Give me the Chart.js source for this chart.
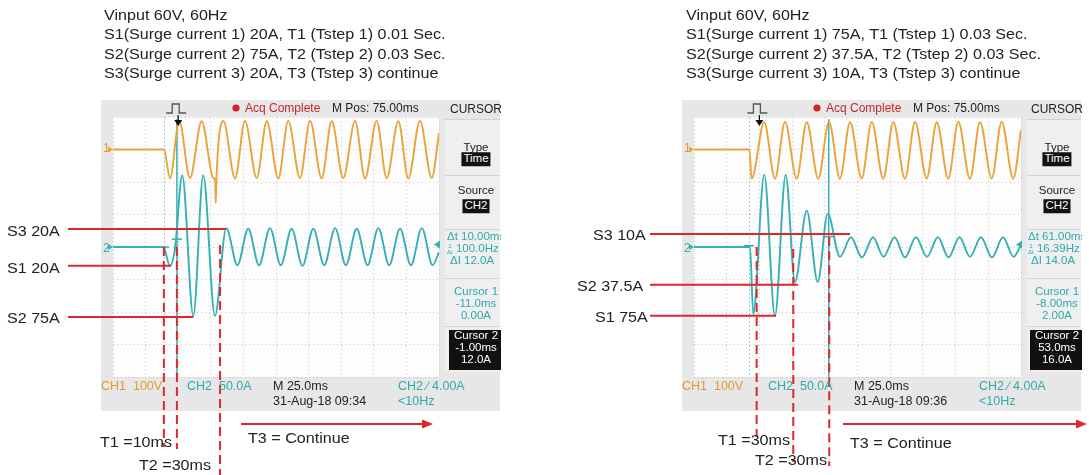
<!DOCTYPE html>
<html>
<head>
<meta charset="utf-8">
<script src="https://cdn.jsdelivr.net/npm/chart.js@4.4.1/dist/chart.umd.min.js"></script>
<style>
  html, body { margin: 0; padding: 0; background: #fff; }
  #page { position: relative; width: 1089px; height: 475px; overflow: hidden; font-family: 'Liberation Sans', Arial, sans-serif; }
  canvas { position: absolute; left: 0; top: 0; }
  .t { position: absolute; white-space: nowrap; line-height: 1; transform: translateY(-50%); }
  .note { font-size: 14px; color: #222; transform: translateY(-50%) scaleX(1.15); transform-origin: 0 50%; }
  .sc { font-size: 12px; color: #222; }
  .c { transform: translate(-50%, -50%); }
  .o { color: #e39a2c; }
  .g { color: #2fa9ad; }
  .r { color: #c4262c; }
  .box { background: #111; color: #fff; padding: 1px 2px; }
  .panel { position: absolute; top: 100px; width: 56px; height: 275px; overflow: hidden; }
  .cur2 { position: absolute; left: 4px; top: 230px; width: 60px; height: 40px; background: #111; }
</style>
</head>
<body>
<div id="page">
  <canvas id="leftScope" width="1089" height="475"></canvas>
  <canvas id="rightScope" width="1089" height="475"></canvas>
  <div id="texts"></div>
</div>
<script>
// ---- scope settings (ms relative to trigger, amps for CH2, volts for CH1)
const timeRange = [-50, 200];
const timeStep = 25;
const ampRange = [-200, 200];
const ampStep = 50;
const voltRange = [-700, 100];

// ---- left capture (09:34)
const leftCh1Time = [-50, -10.9, -6.3, 0.8, 9.0, 18.0, 26.9, 28.4, 28.8, 29.3, 34.6, 43.6, 51.2, 60.2, 67.9, 76.8, 84.4, 93.4, 101.1, 110.0, 117.7, 126.6, 135.6, 143.3, 152.2, 159.9, 168.8, 176.5, 185.4, 194.4, 200];
const leftCh1Volt = [0, 0, -89, 88, -88, 87, -88, -95, -165, -90, 88, -89, 88, -88, 87, -89, 88, -88, 88, -89, 87, -88, 88, -89, 88, -88, 87, -89, 88, -88, 50];
const leftCh2Time = [-50, -11.4, -6.3, -2.5, 3.1, 11.6, 19.2, 28.2, 36.9, 45.4, 53.7, 62.0, 70.4, 78.7, 87.0, 95.3, 103.6, 112.0, 120.3, 128.6, 136.9, 145.2, 153.5, 161.8, 170.1, 178.5, 186.8, 195.1, 200];
const leftCh2Amp = [0, 0, -29, -3, 110, -106, 110, -106, 29, -28, 28, -28, 29, -28, 28, -29, 28, -28, 29, -28, 28, -28, 29, -28, 28, -28, 29, -28, -8];
const leftCursorTime = [-11, -1];
const leftCursorAmp = [0, 12];
const leftLevelAmp = [27.7, -28.8, -107.7];
const leftLevelEnd = [36.9, -5.5, 11.6];
const leftStepTime = [-11, -1, 32.1];
const leftStepFrom = [0, 0, 3];
const leftLabels = ['S3 20A', 'S1 20A', 'S2 75A'];
const leftSteps = ['T1 =10ms', 'T2 =30ms', 'T3 = Continue'];
const leftHeader = ['Vinput 60V, 60Hz', 'S1(Surge current 1) 20A, T1 (Tstep 1) 0.01 Sec.', 'S2(Surge current 2) 75A, T2 (Tstep 2) 0.03 Sec.', 'S3(Surge current 3) 20A, T3 (Tstep 3) continue'];
const leftReadout = ['10.00ms', '100.0Hz', '12.0A', '-11.0ms', '0.00A', '-1.00ms', '12.0A'];
const leftStamp = '31-Aug-18 09:34';

// ---- right capture (09:36)
const rightCh1Time = [-50, -7.7, -5.9, 3.7, 11.9, 19.6, 28.5, 36.2, 45.0, 53.2, 61.6, 69.3, 78.2, 85.9, 94.7, 102.4, 111.3, 119.0, 127.9, 135.6, 144.4, 152.1, 161.0, 168.7, 177.6, 185.2, 194.1, 200];
const rightCh1Volt = [0, 0, -90, 84, -90, 85, -89, 84, -90, 85, -90, 84, -89, 85, -90, 84, -90, 85, -89, 84, -90, 85, -90, 84, -89, 85, -90, 60];
const rightCh2Time = [-50, -7.2, -4.7, 3.7, 11.9, 20.1, 27.2, 36.2, 44.6, 52.2, 61.6, 70.0, 78.4, 86.9, 94.9, 103.3, 111.3, 119.7, 128.1, 136.5, 144.6, 153.0, 161.0, 169.4, 177.8, 186.2, 194.3, 200];
const rightCh2Amp = [0, 0, -103, 111, -106, 111, -54, 56, -54, 51, -15, 15, -16, 15, -15, 15, -16, 15, -15, 15, -16, 15, -15, 15, -16, 15, -15, 3];
const rightCursorTime = [-8, 53];
const rightCursorAmp = [2, 16];
const rightLevelAmp = [20, -58, -105.7];
const rightLevelEnd = [69.3, 29.5, 12.7];
const rightStepTime = [-2.1, 25.9, 53.4];
const rightStepFrom = [0, -3, 15];
const rightLabels = ['S3 10A', 'S2 37.5A', 'S1 75A'];
const rightSteps = ['T1 =30ms', 'T2 =30ms', 'T3 = Continue'];
const rightHeader = ['Vinput 60V, 60Hz', 'S1(Surge current 1) 75A, T1 (Tstep 1) 0.03 Sec.', 'S2(Surge current 2) 37.5A, T2 (Tstep 2) 0.03 Sec.', 'S3(Surge current 3) 10A, T3 (Tstep 3) continue'];
const rightReadout = ['61.00ms', '16.39Hz', '14.0A', '-8.00ms', '2.00A', '53.0ms', '16.0A'];
const rightStamp = '31-Aug-18 09:36';

const CH1 = '#eba238';
const CH2 = '#35b0b4';
const RED = '#e0262c';
const trigAmp = 4;

function line(ctx, x0, y0, x1, y1) {
  ctx.beginPath();
  ctx.moveTo(x0, y0);
  ctx.lineTo(x1, y1);
  ctx.stroke();
}

// frame, menu panel, cursors, markers and the red notes of each scope
const scopeDecor = {
  id: 'scopeDecor',
  beforeDraw(chart, args, o) {
    const { ctx, chartArea: a } = chart;
    const fx = a.left - 12;
    ctx.save();
    ctx.fillStyle = '#e7e7e7';
    ctx.fillRect(fx, 100, 399, 311);
    ctx.fillStyle = '#fdfdfd';
    ctx.fillRect(a.left, a.top, a.right - a.left, a.bottom - a.top);
    const px = a.right + 6;
    ctx.fillStyle = '#efefef';
    ctx.fillRect(px, 119, fx + 399 - px, 253);
    ctx.strokeStyle = '#d2d2d2';
    ctx.lineWidth = 1;
    [119.5, 175.5, 229.5, 278.5, 326.5].forEach(y => line(ctx, px, y, fx + 399, y));
    ctx.restore();
  },
  beforeDatasetsDraw(chart, args, o) {
    const { ctx, chartArea: a, scales } = chart;
    ctx.save();
    ctx.strokeStyle = '#8fd3d6';
    ctx.lineWidth = 1;
    ctx.setLineDash([2, 2]);
    const c1 = Math.round(scales.x.getPixelForValue(o.cursorTime[0])) + 0.5;
    line(ctx, c1, a.top, c1, a.bottom);
    ctx.setLineDash([]);
    ctx.strokeStyle = CH2;
    ctx.lineWidth = 1.5;
    const c2 = scales.x.getPixelForValue(o.cursorTime[1]);
    line(ctx, c2, a.top + 2, c2, a.bottom);
    o.cursorTime.forEach((t, i) => {
      const x = scales.x.getPixelForValue(t);
      const y = scales.y.getPixelForValue(o.cursorAmp[i]);
      line(ctx, x - 5, y, x + 5, y);
    });
    ctx.restore();
  },
  afterDatasetsDraw(chart, args, o) {
    const { ctx, chartArea: a, scales } = chart;
    const xs = scales.x, ys = scales.y, yv = scales.yV;
    ctx.save();
    // trigger pulse icon and trigger point arrow
    const tx = xs.getPixelForValue(0);
    ctx.strokeStyle = '#555';
    ctx.lineWidth = 1.3;
    ctx.beginPath();
    ctx.moveTo(tx - 12, 113); ctx.lineTo(tx - 6, 113); ctx.lineTo(tx - 6, 104);
    ctx.lineTo(tx + 1, 104); ctx.lineTo(tx + 1, 113); ctx.lineTo(tx + 8, 113);
    ctx.stroke();
    ctx.fillStyle = '#111';
    ctx.beginPath();
    ctx.moveTo(tx - 4, a.top + 3); ctx.lineTo(tx + 4, a.top + 3); ctx.lineTo(tx, a.top + 9);
    ctx.closePath(); ctx.fill();
    ctx.strokeStyle = '#111';
    ctx.lineWidth = 1.2;
    line(ctx, tx, a.top - 2, tx, a.top + 4);
    // channel ground markers and trigger level
    const g1 = yv.getPixelForValue(0), g2 = ys.getPixelForValue(0), tl = ys.getPixelForValue(trigAmp);
    ctx.fillStyle = CH1;
    ctx.beginPath(); ctx.moveTo(a.left - 5, g1 - 3); ctx.lineTo(a.left, g1); ctx.lineTo(a.left - 5, g1 + 3); ctx.fill();
    ctx.fillStyle = CH2;
    ctx.beginPath(); ctx.moveTo(a.left - 5, g2 - 3); ctx.lineTo(a.left, g2); ctx.lineTo(a.left - 5, g2 + 3); ctx.fill();
    ctx.beginPath(); ctx.moveTo(a.right + 1, tl - 4); ctx.lineTo(a.right - 5, tl); ctx.lineTo(a.right + 1, tl + 4); ctx.fill();
    // acquisition dot
    ctx.fillStyle = '#d0232a';
    ctx.beginPath(); ctx.arc(a.left + o.dotX, 108, 3.6, 0, Math.PI * 2); ctx.fill();
    // red notes
    ctx.strokeStyle = RED;
    ctx.fillStyle = RED;
    ctx.lineWidth = 2;
    o.levelAmp.forEach((v, i) => {
      const y = ys.getPixelForValue(v);
      line(ctx, o.labelX, y, xs.getPixelForValue(o.levelEnd[i]), y);
    });
    ctx.setLineDash([9, 5]);
    o.stepTime.forEach((t, i) => {
      const x = xs.getPixelForValue(t);
      line(ctx, x, ys.getPixelForValue(o.stepFrom[i]), x, o.stepBottom[i]);
    });
    ctx.setLineDash([]);
    const [ax0, ax1] = o.arrow;
    line(ctx, ax0, 424, ax1 - 8, 424);
    ctx.beginPath(); ctx.moveTo(ax1, 424); ctx.lineTo(ax1 - 11, 419.5); ctx.lineTo(ax1 - 11, 428.5); ctx.closePath(); ctx.fill();
    ctx.restore();
  }
};

function pts(ts, vs) {
  return ts.map((t, i) => ({ x: t, y: vs[i] }));
}

function gridScale(range, step, fit) {
  return {
    type: 'linear', min: range[0], max: range[1],
    ticks: { display: false, stepSize: step },
    grid: { color: '#c4c4c4', lineWidth: 1, drawTicks: false },
    border: { display: false, dash: [1, 3] },
    afterFit: fit
  };
}

function makeScope(id, gridLeft, gridRight, ch1T, ch1V, ch2T, ch2V, marks) {
  return new Chart(document.getElementById(id), {
    type: 'line',
    data: {
      datasets: [
        { data: pts(ch1T, ch1V), yAxisID: 'yV', borderColor: CH1 },
        { data: pts(ch2T, ch2V), yAxisID: 'y', borderColor: CH2 }
      ]
    },
    options: {
      responsive: false,
      animation: false,
      devicePixelRatio: 1,
      events: [],
      layout: { padding: { left: gridLeft, right: 1089 - gridRight, top: 117, bottom: 98 } },
      elements: {
        point: { radius: 0 },
        line: { borderWidth: 1.9, cubicInterpolationMode: 'monotone', fill: false }
      },
      scales: {
        x: gridScale(timeRange, timeStep, s => { s.height = 0; }),
        y: gridScale(ampRange, ampStep, s => { s.width = 0; }),
        yV: { type: 'linear', display: false, min: voltRange[0], max: voltRange[1] }
      },
      plugins: { legend: { display: false }, tooltip: { enabled: false }, scopeDecor: marks }
    },
    plugins: [scopeDecor]
  });
}

makeScope('leftScope', 113, 439, leftCh1Time, leftCh1Volt, leftCh2Time, leftCh2Amp, {
  cursorTime: leftCursorTime, cursorAmp: leftCursorAmp,
  levelAmp: leftLevelAmp, levelEnd: leftLevelEnd,
  stepTime: leftStepTime, stepFrom: leftStepFrom, stepBottom: [447, 449, 475],
  labelX: 68, arrow: [241, 433], dotX: 123
});
makeScope('rightScope', 694, 1021, rightCh1Time, rightCh1Volt, rightCh2Time, rightCh2Amp, {
  cursorTime: rightCursorTime, cursorAmp: rightCursorAmp,
  levelAmp: rightLevelAmp, levelEnd: rightLevelEnd,
  stepTime: rightStepTime, stepFrom: rightStepFrom, stepBottom: [437, 462, 466],
  labelX: 650, arrow: [843, 1087], dotX: 123
});

// ---- all words as page text
function scopeText(ox, header, hx, readout, stamp) {
  const [dt, hz, di, c1t, c1a, c2t, c2a] = readout;
  let h = header.map((s, i) => `<div class="t note" style="left:${hx}px;top:${15 + i * 19.4}px">${s}</div>`).join('');
  h += `
  <div class="t sc r" style="left:${ox + 245}px;top:108px">Acq Complete</div>
  <div class="t sc" style="left:${ox + 332}px;top:108px">M Pos: 75.00ms</div>
  <div class="t sc o" style="left:${ox + 103}px;top:148px">1</div>
  <div class="t sc g" style="left:${ox + 103}px;top:248px">2</div>
  <div class="t sc" style="left:${ox + 101}px;top:386px;font-size:12.5px"><span class="o">CH1&nbsp;&nbsp;100V</span></div>
  <div class="t sc g" style="left:${ox + 187}px;top:386px;font-size:12.5px">CH2&nbsp;&nbsp;50.0A</div>
  <div class="t sc" style="left:${ox + 273}px;top:386px;font-size:12.5px">M 25.0ms</div>
  <div class="t sc" style="left:${ox + 273}px;top:401px;font-size:12.5px">${stamp}</div>
  <div class="t sc g" style="left:${ox + 398}px;top:386px;font-size:12.5px">CH2&nbsp;&#8725;&nbsp;4.00A</div>
  <div class="t sc g" style="left:${ox + 398}px;top:401px;font-size:12.5px">&lt;10Hz</div>
  <div class="panel" style="left:${ox + 445}px">
    <div class="t sc c" style="left:31px;top:9px">CURSOR</div>
    <div class="t sc c" style="left:31px;top:48px;font-size:11.5px">Type</div>
    <div class="t sc c box" style="left:31px;top:59px;font-size:11.5px">Time</div>
    <div class="t sc c" style="left:31px;top:91px;font-size:11.5px">Source</div>
    <div class="t sc c box" style="left:31px;top:106px;font-size:11.5px">CH2</div>
    <div class="t sc g" style="left:2px;top:137px;font-size:11.5px">&Delta;t ${dt}</div>
    <div class="t sc g" style="left:2px;top:149px;font-size:11.5px"><span style="display:inline-block;font-size:6px;line-height:6px;text-align:center;vertical-align:middle">1<br>&Delta;t</span> ${hz}</div>
    <div class="t sc g" style="left:5px;top:161px;font-size:11.5px">&Delta;I ${di}</div>
    <div class="t sc g c" style="left:31px;top:192px;font-size:11.5px">Cursor 1</div>
    <div class="t sc g c" style="left:31px;top:204px;font-size:11.5px">${c1t}</div>
    <div class="t sc g c" style="left:31px;top:216px;font-size:11.5px">${c1a}</div>
    <div class="cur2"></div>
    <div class="t sc c" style="left:31px;top:236px;font-size:11.5px;color:#fff">Cursor 2</div>
    <div class="t sc c" style="left:31px;top:248px;font-size:11.5px;color:#fff">${c2t}</div>
    <div class="t sc c" style="left:31px;top:260px;font-size:11.5px;color:#fff">${c2a}</div>
  </div>`;
  return h;
}

function noteText(list) {
  return list.map(([s, x, y]) => `<div class="t note" style="left:${x}px;top:${y}px">${s}</div>`).join('');
}

document.getElementById('texts').innerHTML =
  scopeText(0, leftHeader, 103.5, leftReadout, leftStamp) +
  scopeText(581, rightHeader, 686, rightReadout, rightStamp) +
  noteText([
    [leftLabels[0], 7, 231], [leftLabels[1], 7, 268], [leftLabels[2], 7, 317.5],
    [leftSteps[0], 100, 441.5], [leftSteps[1], 139, 465], [leftSteps[2], 248, 438],
    [rightLabels[0], 593, 234.5], [rightLabels[1], 577, 286], [rightLabels[2], 595, 317],
    [rightSteps[0], 718, 440], [rightSteps[1], 755, 460], [rightSteps[2], 850, 443]
  ]);
</script>
</body>
</html>
